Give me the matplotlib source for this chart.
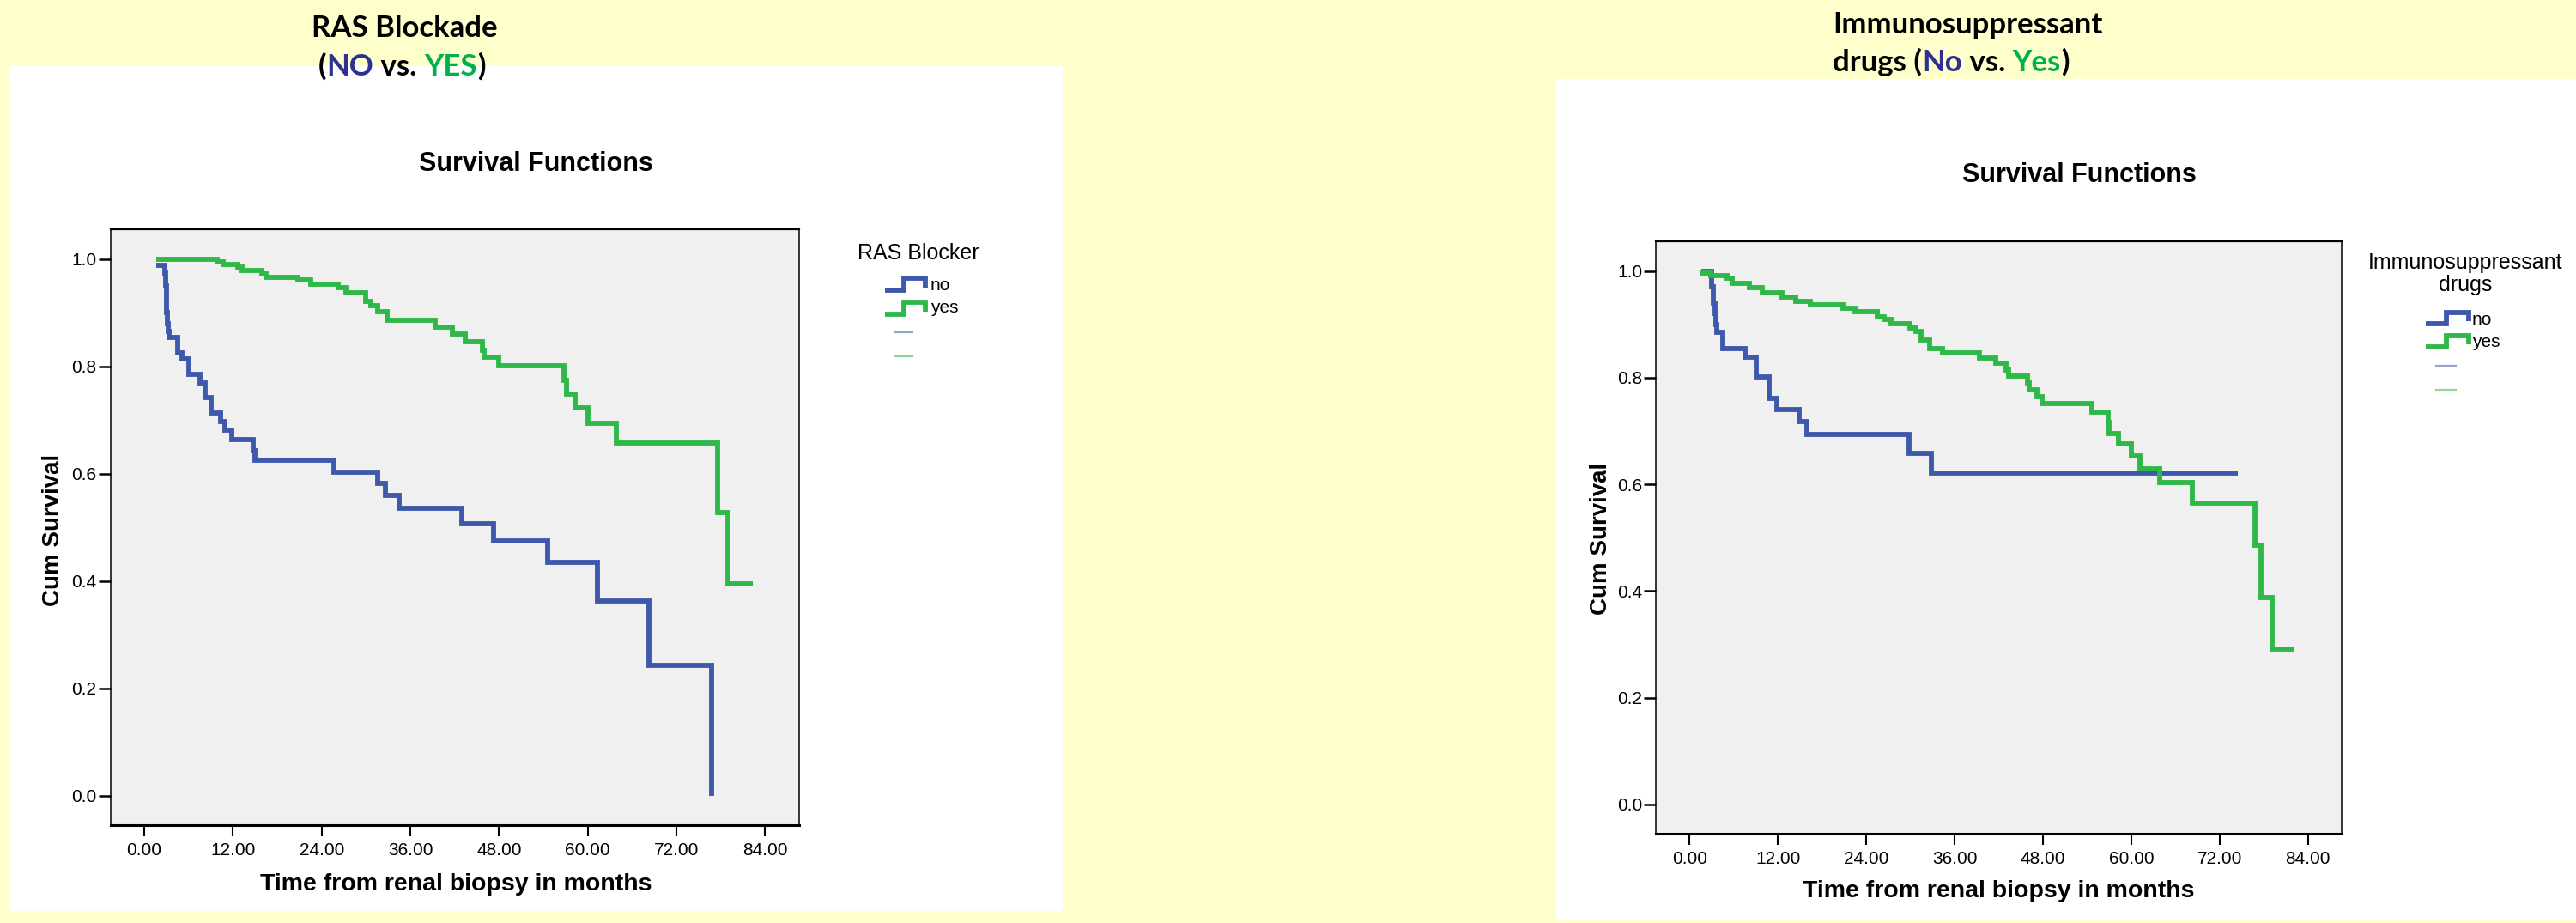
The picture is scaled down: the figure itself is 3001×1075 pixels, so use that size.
import matplotlib
matplotlib.use('Agg')
import matplotlib.pyplot as plt
from matplotlib.patches import Rectangle
from matplotlib.lines import Line2D

plt.rcParams['font.family'] = ['Liberation Sans', 'DejaVu Sans']

# ---- data (time in months, cumulative survival) ----
# RAS blocker = no
t_no_ras = [1.6, 2.75, 2.85, 2.95, 3.05, 3.15, 3.25, 3.33, 4.49, 5.07, 6.04, 7.59, 8.29, 9.06,
            10.3, 10.88, 11.85, 14.76, 14.95, 25.6, 31.6, 32.57, 34.5, 43.0, 47.2, 54.6,
            61.3, 68.3, 76.8]
s_no_ras = [0.988, 0.975, 0.95, 0.925, 0.90, 0.88, 0.865, 0.854, 0.826, 0.814, 0.785, 0.770, 0.742,
            0.713, 0.697, 0.681, 0.663, 0.643, 0.626, 0.603, 0.582, 0.559, 0.535, 0.507, 0.475,
            0.435, 0.363, 0.242, 0.0]
end_no_ras = 76.8
# RAS blocker = yes
t_yes_ras = [1.6, 9.9, 10.7, 12.6, 13.2, 15.9, 16.5, 20.8, 22.5, 26.2, 27.3, 29.9, 30.6, 31.6,
             32.8, 39.3, 41.7, 43.4, 45.7, 46.0, 48.0, 56.8, 57.1, 58.3, 60.0, 63.9, 77.6, 79.0]
s_yes_ras = [1.0, 0.995, 0.990, 0.985, 0.979, 0.973, 0.967, 0.961, 0.954, 0.947, 0.938, 0.921,
             0.913, 0.903, 0.886, 0.874, 0.860, 0.847, 0.831, 0.817, 0.801, 0.774, 0.748, 0.723,
             0.695, 0.658, 0.527, 0.395]
end_yes_ras = 82.3

# Immunosuppressant drugs = no
t_no_imm = [1.54, 3.0, 3.2, 3.4, 3.55, 3.67, 4.46, 7.56, 9.1, 10.76, 11.84, 14.84, 15.93, 29.8, 32.84]
s_no_imm = [1.0, 0.97, 0.94, 0.92, 0.90, 0.885, 0.854, 0.838, 0.802, 0.762, 0.741, 0.718, 0.693,
            0.659, 0.622]
end_no_imm = 74.5
# Immunosuppressant drugs = yes
t_yes_imm = [1.5, 2.9, 5.04, 5.8, 8.15, 9.9, 12.6, 14.4, 16.4, 20.8, 22.5, 25.5, 26.4, 27.4, 29.9,
             30.7, 31.5, 32.65, 34.4, 39.4, 41.6, 43.0, 43.35, 45.9, 46.1, 47.2, 47.9, 54.6, 56.9,
             57.0, 58.3, 60.0, 61.2, 63.9, 68.3, 76.8, 77.6, 79.1]
s_yes_imm = [0.996, 0.992, 0.987, 0.977, 0.969, 0.959, 0.952, 0.943, 0.937, 0.930, 0.924, 0.914,
             0.909, 0.902, 0.893, 0.8875, 0.871, 0.855, 0.847, 0.837, 0.827, 0.815, 0.803, 0.791,
             0.778, 0.764, 0.752, 0.735, 0.716, 0.696, 0.676, 0.653, 0.630, 0.603, 0.565, 0.486,
             0.388, 0.291]
end_yes_imm = 82.2

x_ticks = [0, 12, 24, 36, 48, 60, 72, 84]
y_ticks = [0.0, 0.2, 0.4, 0.6, 0.8, 1.0]
groups = ['no', 'yes']

BLUE = '#3E58AC'
GREEN = '#2EB848'
T_BLUE = '#2E3192'
T_GREEN = '#00B050'
BG = '#FFFFCC'
LW = 4.2

W, H = 3001, 1075
fig = plt.figure(figsize=(W / 100, H / 100), dpi=100, facecolor=BG)


def fx(x):
    return x / W


def fy(y):
    return 1 - y / H


def panel(x0, y0, x1, y1):
    fig.add_artist(Rectangle((fx(x0), fy(y1)), (x1 - x0) / W, (y1 - y0) / H,
                             transform=fig.transFigure, facecolor='white',
                             edgecolor='none', zorder=0))


def km(ax, t, s, t_end, color):
    xs = list(t) + [t_end]
    ys = list(s) + [s[-1]]
    ax.step(xs, ys, where='post', color=color, lw=LW,
            solid_joinstyle='miter', solid_capstyle='butt')


def setup_axes(ax):
    ax.set_facecolor('#F0F0F0')
    ax.set_xlim(-4.6, 88.6)
    ax.set_ylim(-0.055, 1.056)
    ax.set_xticks(x_ticks)
    ax.set_xticklabels([f'{v:.2f}' for v in x_ticks])
    ax.set_yticks(y_ticks)
    ax.set_yticklabels([f'{v:.1f}' for v in y_ticks])
    ax.tick_params(axis='x', length=9.5, width=1.5, pad=5, labelsize=15)
    ax.tick_params(axis='y', length=10, width=1.8, pad=1.5, labelsize=15)
    ax.spines['top'].set_linewidth(1.6)
    ax.spines['bottom'].set_linewidth(2.2)
    ax.spines['left'].set_linewidth(1.1)
    ax.spines['right'].set_linewidth(1.1)


renderer = fig.canvas.get_renderer()


def text_width(s, **kw):
    t = fig.text(0, 0, s + 'x', **kw)
    w1 = t.get_window_extent(renderer).width
    t.remove()
    t = fig.text(0, 0, 'x', **kw)
    w2 = t.get_window_extent(renderer).width
    t.remove()
    return w1 - w2


def rich_text(x, y, parts, ha='left', **kw):
    full = ''.join(p for p, c in parts)
    total = text_width(full, **kw)
    x0 = x - total / 2 if ha == 'center' else x
    prefix = ''
    for p, c in parts:
        off = text_width(prefix, **kw) if prefix else 0
        fig.text(fx(x0 + off), fy(y), p, color=c, va='baseline', ha='left', **kw)
        prefix += p


def legend_symbol(x0, x1, y_low, y_high, color):
    xm = x0 + (x1 - x0) * 0.47
    xs = [x0, xm, xm, x1, x1]
    ys = [y_low, y_low, y_high, y_high, y_low - 3]
    fig.add_artist(Line2D([fx(v) for v in xs], [fy(v) for v in ys], color=color, lw=LW,
                          solid_joinstyle='miter', solid_capstyle='butt',
                          transform=fig.transFigure))


def censor_symbol(x0, x1, y, color):
    fig.add_artist(Line2D([fx(x0), fx(x1)], [fy(y), fy(y)], color=color, lw=1.6,
                          alpha=0.55, transform=fig.transFigure))


title_kw = dict(fontsize=25, fontweight='bold', family=['Lato', 'DejaVu Sans'])

# ---------------- left panel: RAS blockade ----------------
panel(11, 77, 1238, 1061)
fig.text(fx(471), fy(43), 'RAS Blockade', ha='center', va='baseline', **title_kw)
rich_text(468, 88, [('(', 'black'), ('NO', T_BLUE), (' vs. ', 'black'),
                    ('YES', T_GREEN), (')', 'black')], ha='center', **title_kw)

ax1 = fig.add_axes([fx(128.5), fy(961), 802.5 / W, 694 / H])
setup_axes(ax1)
km(ax1, t_no_ras, s_no_ras, end_no_ras, BLUE)
km(ax1, t_yes_ras, s_yes_ras, end_yes_ras, GREEN)

fig.text(fx(624), fy(199), 'Survival Functions', ha='center', va='baseline',
         fontsize=22, fontweight='bold')
fig.text(fx(531), fy(1037), 'Time from renal biopsy in months', ha='center',
         va='baseline', fontsize=20.5, fontweight='bold')
fig.text(fx(62), fy(617), 'Cum Survival', rotation=90, ha='center', va='center',
         fontsize=20, fontweight='bold')

fig.text(fx(999), fy(302), 'RAS Blocker', ha='left', va='baseline', fontsize=18)
legend_symbol(1031, 1078, 338, 324, BLUE)
legend_symbol(1031, 1078, 366, 352, GREEN)
fig.text(fx(1084), fy(338), groups[0], ha='left', va='baseline', fontsize=15)
fig.text(fx(1084), fy(364), groups[1], ha='left', va='baseline', fontsize=15)
censor_symbol(1043, 1063, 387, BLUE)
censor_symbol(1043, 1063, 415, GREEN)

# ---------------- right panel: immunosuppressant drugs ----------------
panel(1813, 92, 3001, 1072)
fig.text(fx(2135), fy(39), 'Immunosuppressant', ha='left', va='baseline', **title_kw)
rich_text(2135, 83, [('drugs (', 'black'), ('No', T_BLUE), (' vs. ', 'black'),
                     ('Yes', T_GREEN), (')', 'black')], ha='left', **title_kw)

ax2 = fig.add_axes([fx(1929), fy(971), 799 / W, 690 / H])
setup_axes(ax2)
km(ax2, t_no_imm, s_no_imm, end_no_imm, BLUE)
km(ax2, t_yes_imm, s_yes_imm, end_yes_imm, GREEN)

fig.text(fx(2422), fy(212), 'Survival Functions', ha='center', va='baseline',
         fontsize=22, fontweight='bold')
fig.text(fx(2328), fy(1045), 'Time from renal biopsy in months', ha='center',
         va='baseline', fontsize=20.5, fontweight='bold')
fig.text(fx(1865), fy(627), 'Cum Survival', rotation=90, ha='center', va='center',
         fontsize=20, fontweight='bold')

fig.text(fx(2872), fy(313), 'Immunosuppressant', ha='center', va='baseline', fontsize=18)
fig.text(fx(2872), fy(339), 'drugs', ha='center', va='baseline', fontsize=18)
legend_symbol(2826, 2876, 377, 364, BLUE)
legend_symbol(2826, 2876, 404, 391, GREEN)
fig.text(fx(2880), fy(378), groups[0], ha='left', va='baseline', fontsize=15)
fig.text(fx(2880), fy(404), groups[1], ha='left', va='baseline', fontsize=15)
censor_symbol(2838, 2861, 426, BLUE)
censor_symbol(2838, 2861, 454, GREEN)

fig.savefig('out.png', dpi=100, facecolor=BG)
